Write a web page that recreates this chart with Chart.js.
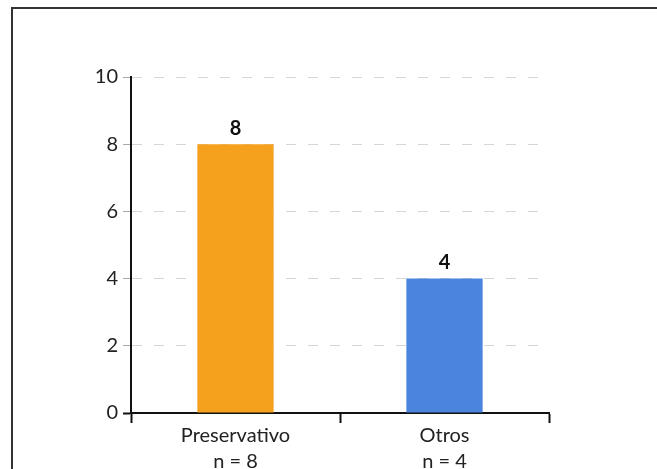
<!DOCTYPE html>
<html>
<head>
<meta charset="utf-8">
<script src="https://cdn.jsdelivr.net/npm/chart.js@4/dist/chart.umd.min.js"></script>
<style>
  html, body { margin: 0; padding: 0; background: #fff; }
  #wrap { position: relative; width: 657px; height: 469px; }
</style>
</head>
<body>
<div id="wrap"><canvas id="c" width="657" height="469"></canvas></div>
<script>
const categories = [["Preservativo", "n = 8"], ["Otros", "n = 4"]];
const values = [8, 4];
const barColors = ["#F6A11E", "#4B84DE"];
const yTicks = [0, 2, 4, 6, 8, 10];

const FONT = "Lato, 'Open Sans', sans-serif";

// Outer frame (left and top edges) behind the chart
const framePlugin = {
  id: 'frame',
  beforeDraw(chart) {
    const ctx = chart.ctx;
    ctx.save();
    ctx.fillStyle = '#fff';
    ctx.fillRect(0, 0, chart.width, chart.height);
    ctx.strokeStyle = '#333';
    ctx.lineWidth = 2;
    ctx.beginPath();
    ctx.moveTo(12, chart.height);
    ctx.lineTo(12, 8);
    ctx.lineTo(chart.width, 8);
    ctx.stroke();
    ctx.restore();
  }
};

// Bold value above each bar
const valueLabels = {
  id: 'valueLabels',
  afterDatasetsDraw(chart) {
    const ctx = chart.ctx;
    const meta = chart.getDatasetMeta(0);
    ctx.save();
    ctx.font = "bold 20px " + FONT;
    ctx.fillStyle = '#111';
    ctx.textAlign = 'center';
    ctx.textBaseline = 'bottom';
    meta.data.forEach((bar, i) => {
      ctx.fillText(String(values[i]), bar.x, bar.y - 6);
    });
    ctx.restore();
  }
};

new Chart(document.getElementById('c'), {
  type: 'bar',
  data: {
    labels: categories,
    datasets: [{
      data: values,
      backgroundColor: barColors,
      borderWidth: 0,
      categoryPercentage: 1,
      barPercentage: 0.365
    }]
  },
  options: {
    responsive: false,
    animation: false,
    devicePixelRatio: 1,
    layout: { padding: { left: 0, right: 108, top: 77, bottom: 0 } },
    plugins: { legend: { display: false }, tooltip: { enabled: false } },
    scales: {
      x: {
        offset: true,
        grid: {
          offset: true,
          drawOnChartArea: false,
          drawTicks: true,
          tickLength: 10,
          tickColor: '#111',
          tickWidth: 2
        },
        border: { color: '#111', width: 2 },
        ticks: {
          color: '#222',
          font: { family: FONT, size: 20, lineHeight: 1.3 },
          padding: 0
        },
        afterFit(scale) { scale.height = 56; }
      },
      y: {
        min: 0,
        max: 10,
        afterBuildTicks(scale) { scale.ticks = yTicks.map(v => ({ value: v })); },
        grid: {
          color: '#d6d6d6',
          lineWidth: 1,
          tickBorderDash: [],
          tickColor: (c) => (c.tick && c.tick.value === 0) ? '#111' : '#aaa',
          tickWidth: (c) => (c.tick && c.tick.value === 0) ? 2 : 1,
          tickLength: 8
        },
        border: { color: '#111', width: 2, dash: [10, 12] },
        ticks: {
          color: '#222',
          font: { family: FONT, size: 20 },
          padding: 5
        },
        afterFit(scale) { scale.width = 131; }
      }
    }
  },
  plugins: [framePlugin, valueLabels]
});
</script>
</body>
</html>
